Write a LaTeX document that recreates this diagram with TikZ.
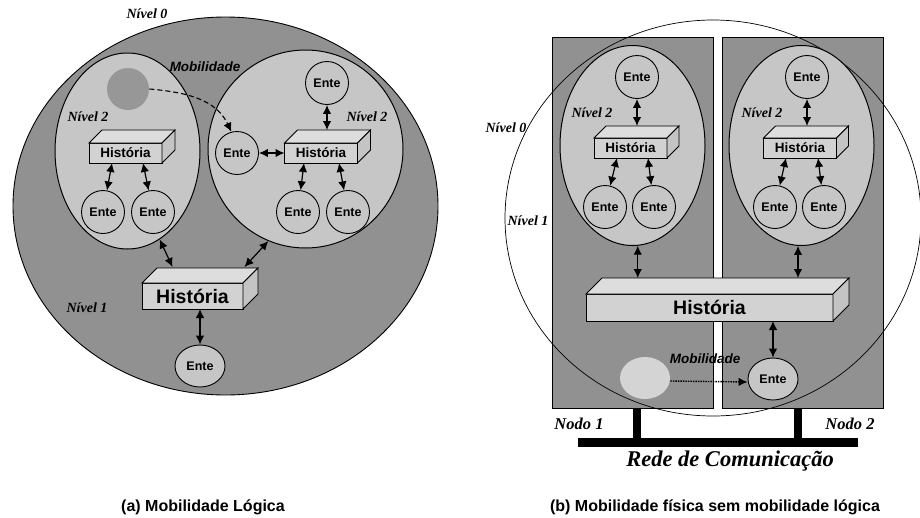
\documentclass[tikz,border=0pt]{standalone}
\usepackage{fontspec}
\setmainfont{Liberation Serif}
\setsansfont{Liberation Sans}
\usepackage{tikz}
\usetikzlibrary{arrows.meta}
\usetikzlibrary{shapes.geometric}
\usepackage{xcolor}

\definecolor{darkbg}{HTML}{919191}
\definecolor{lightbg}{HTML}{C6C6C6}
\definecolor{boxfront}{HTML}{D2D2D2}
\definecolor{boxtop}{HTML}{DDDDDD}
\definecolor{boxside}{HTML}{C4C4C4}
\definecolor{ghostdark}{HTML}{979797}
\definecolor{ghostlight}{HTML}{D4D4D4}

\newcommand{\boxfaces}[2]{%
	\draw[fill=boxtop] (#1.north west) -- ++(#2,#2) -- ([shift={(#2,#2)}]#1.north east) -- (#1.north east) -- cycle;
	\draw[fill=boxside] (#1.north east) -- ++(#2,#2) -- ([shift={(#2,#2)}]#1.south east) -- (#1.south east) -- cycle;
}

\begin{document}
\begin{tikzpicture}
	[x=1pt, y=-1pt, line width=0.9pt, >={Latex[length=9pt,width=8.5pt]},
	level/.style = {
		draw, ellipse, fill=lightbg, inner sep=0pt, line width=1pt
	},
	nodebox/.style = {
		draw, rectangle, fill=darkbg, inner sep=0pt, minimum width=161pt, minimum height=371pt
	},
	ente/.style = {
		draw, circle, fill=lightbg, inner sep=0pt, minimum size=43pt,
		font=\sffamily\bfseries\fontsize{12.5}{12.5}\selectfont
	},
	ghost/.style = {
		circle, inner sep=0pt
	},
	hist/.style = {
		draw, fill=boxfront, inner sep=0pt, outer sep=0pt, minimum width=73pt, minimum height=20pt,
		font=\sffamily\bfseries\fontsize{13.5}{13.5}\selectfont
	},
	bighist/.style = {
		hist, font=\sffamily\bfseries\fontsize{19.5}{19.5}\selectfont
	},
	wire/.style = {
		<->, line width=1.2pt
	},
	nivel/.style = {
		font=\bfseries\itshape\fontsize{14}{14}\selectfont
	},
	nodolabel/.style = {
		font=\bfseries\itshape\fontsize{16.5}{16.5}\selectfont
	},
	mob/.style = {
		font=\sffamily\bfseries\itshape\fontsize{13.5}{13.5}\selectfont
	},
	caption/.style = {
		font=\sffamily\bfseries\fontsize{16}{16}\selectfont
	},
	bus/.style = {
		line width=8.5pt
	}]
	\useasboundingbox (0,0) rectangle (920,517);
	
	%Draw nodes (a)
	\node[draw, ellipse, fill=darkbg, inner sep=0pt, minimum width=425pt, minimum height=378pt] at (225.5,206) (lvl0a) {};
	\node[level, minimum width=145pt, minimum height=196pt] at (127.5,151) (n2a1) {};
	\node[level, minimum width=195pt, minimum height=198pt] at (305.5,149) (n2a2) {};
	\node[ghost, fill=ghostdark, minimum size=42pt] at (128,89) (ghosta) {};
	\node[hist] at (125.5,153) (ha1) {História};
	\boxfaces{ha1}{13pt}
	\node[hist] at (321,153) (ha2) {História};
	\boxfaces{ha2}{13pt}
	\node[ente] at (103,212) (ea1) {Ente};
	\node[ente] at (153,212) (ea2) {Ente};
	\node[ente] at (237,153) (ea3) {Ente};
	\node[ente] at (327,83) (ea4) {Ente};
	\node[ente] at (298,212) (ea5) {Ente};
	\node[ente] at (348,212) (ea6) {Ente};
	\node[bighist, minimum width=101pt, minimum height=26pt] at (192.5,296) (hba) {História};
	\boxfaces{hba}{15pt}
	\node[ente, ellipse, minimum width=50pt, minimum height=42pt] at (200,366) (ea7) {Ente};
	\node[nivel] at (147,14) (nv0a) {Nível 0};
	\node[nivel] at (87,308) (nv1a) {Nível 1};
	\node[nivel] at (88,117) (nv2a1) {Nível 2};
	\node[nivel] at (367,117) (nv2a2) {Nível 2};
	\node[mob] at (205,67) (moba) {Mobilidade};
	\node[caption] at (203,507) (capa) {(a) Mobilidade Lógica};
	
	%Draw wires (a)
	\draw[wire] ([xshift=-13.5pt]ha1.south) -- (ea1);
	\draw[wire] ([xshift=17.5pt]ha1.south) -- (ea2);
	\draw[wire] ([xshift=-17pt]ha2.south) -- (ea5);
	\draw[wire] ([xshift=18pt]ha2.south) -- (ea6);
	\draw[wire, shorten >=13pt] (ea4) -- (ea4 |- ha2.north);
	\draw[wire] (ea3) -- (ha2);
	\draw[wire] (n2a1.-70) -- ([xshift=-20pt,yshift=16pt]hba.north);
	\draw[wire] (n2a2.-112) -- ([xshift=52pt,yshift=16pt]hba.north);
	\draw[wire] (hba.south -| ea7) -- (ea7);
	\draw[->, line width=1.1pt, dash pattern=on 5pt off 3pt] (ghosta.east) to[out=-5, in=115] (ea3.105);
	
	%Draw nodes (b)
	\node[nodebox] at (632.5,222.5) (nodo1) {};
	\node[nodebox] at (802.5,222.5) (nodo2) {};
	\node[draw, ellipse, line width=0.7pt, inner sep=0pt, minimum width=416pt, minimum height=396pt] at (713,218) (lvl0b) {};
	\node[level, minimum width=145pt, minimum height=200pt] at (632.5,145.5) (n2b1) {};
	\node[level, minimum width=145pt, minimum height=200pt] at (801.5,145.5) (n2b2) {};
	\node[hist] at (630.5,148) (hb1) {História};
	\boxfaces{hb1}{12pt}
	\node[hist] at (800,148) (hb2) {História};
	\boxfaces{hb2}{12pt}
	\node[ente] at (637,77) (eb1) {Ente};
	\node[ente] at (605,207) (eb2) {Ente};
	\node[ente] at (654,207) (eb3) {Ente};
	\node[ente] at (807,77) (eb4) {Ente};
	\node[ente] at (775,207) (eb5) {Ente};
	\node[ente] at (824,207) (eb6) {Ente};
	\node[bighist, minimum width=247pt, minimum height=27pt] at (709.5,307.5) (hbb) {História};
	\boxfaces{hbb}{16pt}
	\node[ente, ellipse, minimum width=50pt, minimum height=42pt] at (773,379) (eb7) {Ente};
	\node[ghost, ellipse, fill=ghostlight, minimum width=50pt, minimum height=42pt] at (645,378) (ghostb) {};
	\node[nivel] at (506,128) (nv0b) {Nível 0};
	\node[nivel] at (528,221) (nv1b) {Nível 1};
	\node[nivel] at (592,113) (nv2b1) {Nível 2};
	\node[nivel] at (762,113) (nv2b2) {Nível 2};
	\node[mob] at (705,359) (mobb) {Mobilidade};
	\node[nodolabel] at (579,424) (nd1) {Nodo 1};
	\node[nodolabel] at (850,424) (nd2) {Nodo 2};
	\node[font=\bfseries\itshape\fontsize{22.5}{22.5}\selectfont] at (730,461) (rede) {Rede de Comunicação};
	\node[caption] at (715,507) (capb) {(b) Mobilidade física sem mobilidade lógica};
	\coordinate (busl) at (578,442.5);
	\coordinate (busr) at (858,442.5);
	
	%Draw wires (b)
	\draw[wire, shorten >=12pt] (eb1) -- (eb1 |- hb1.north);
	\draw[wire, shorten >=12pt] (eb4) -- (eb4 |- hb2.north);
	\draw[wire] ([xshift=-13.5pt]hb1.south) -- (eb2);
	\draw[wire] ([xshift=17.5pt]hb1.south) -- (eb3);
	\draw[wire] ([xshift=-14pt]hb2.south) -- (eb5);
	\draw[wire] ([xshift=18pt]hb2.south) -- (eb6);
	\draw[wire, shorten >=16pt] (n2b1.-87) -- (n2b1.-87 |- hbb.north);
	\draw[wire, shorten >=16pt] (n2b2.-92) -- (n2b2.-92 |- hbb.north);
	\draw[wire] (hbb.south -| eb7) -- (eb7);
	\draw[->, line width=1.4pt, dash pattern=on 1.5pt off 1pt] ([yshift=-3pt]ghostb.east) -- ([yshift=-3pt]eb7.west);
	\draw[bus] (busl) -- (busr);
	\draw[bus] ([xshift=4.5pt]nodo1.south) -- ([xshift=4.5pt]nodo1.south |- busl);
	\draw[bus] ([xshift=-4.5pt]nodo2.south) -- ([xshift=-4.5pt]nodo2.south |- busl);
\end{tikzpicture}
\end{document}
